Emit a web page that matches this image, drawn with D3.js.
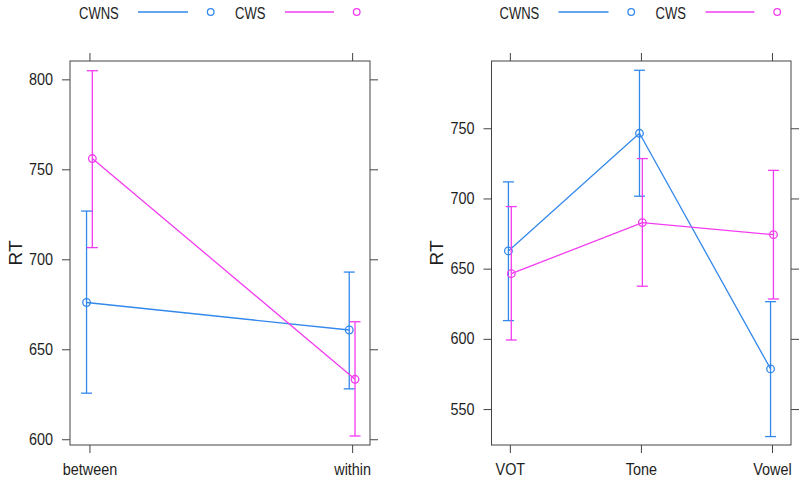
<!DOCTYPE html>
<html><head><meta charset="utf-8">
<script src="https://cdn.jsdelivr.net/npm/d3@7"></script>
<style>
html,body{margin:0;padding:0;background:#fff;}
svg{display:block;font-family:"Liberation Sans",Arial,sans-serif;}
</style></head>
<body><svg id="chart" width="800" height="479"></svg>
<script>
// ---- data ----
const seriesNames = ["CWNS", "CWS"];
const seriesColors = ["#3388ec", "#f23cf0"];

const categoriesA = ["between", "within"];
const cwnsA = [676, 660.7];
const cwnsA_lo = [625.6, 628];
const cwnsA_hi = [726.8, 692.9];
const cwsA = [756, 633.3];
const cwsA_lo = [706.5, 601.8];
const cwsA_hi = [804.8, 665.3];
const ticksA = [600, 650, 700, 750, 800];

const categoriesB = ["VOT", "Tone", "Vowel"];
const cwnsB = [662.6, 746.4, 578.6];
const cwnsB_lo = [613, 701.6, 530.4];
const cwnsB_hi = [711.8, 791.3, 626.5];
const cwsB = [646.4, 682.8, 674.2];
const cwsB_lo = [599.2, 637.5, 628.4];
const cwsB_hi = [694.2, 728.4, 720];
const ticksB = [550, 600, 650, 700, 750];

const svg = d3.select("#chart");
const TXT = "#1e1e1e", BOX = "#444";
const SX = 0.9;

function panel(cfg) {
  const {left, right, top, bottom, xDom, yDom, cats, series, yTicks, legendDx} = cfg;
  const x = d3.scaleLinear().domain(xDom).range([left, right]);
  const y = d3.scaleLinear().domain(yDom).range([bottom, top]);
  const g = svg.append("g");
  const idx = cats.map((c, i) => i + 1);
  const catFmt = i => cats[i - 1];

  // axes
  const ax = [
    g.append("g").attr("transform", `translate(${left},0)`).call(d3.axisLeft(y).tickValues(yTicks).tickSize(8).tickPadding(9)),
    g.append("g").attr("transform", `translate(${right},0)`).call(d3.axisRight(y).tickValues(yTicks).tickSize(8).tickFormat("")),
    g.append("g").attr("transform", `translate(0,${bottom})`).call(d3.axisBottom(x).tickValues(idx).tickFormat(catFmt).tickSize(8).tickPadding(11)),
    g.append("g").attr("transform", `translate(0,${top})`).call(d3.axisTop(x).tickValues(idx).tickSize(8).tickFormat(""))
  ];
  ax.forEach(a => {
    a.select(".domain").remove();
    a.selectAll("line").attr("stroke", BOX).attr("stroke-width", 1);
    a.selectAll("text").attr("fill", TXT).style("font-size", "16px")
      .style("font-family", '"Liberation Sans",Arial,sans-serif');
  });
  ax[0].selectAll("text").attr("x", -17 / SX).attr("transform", `scale(${SX},1)`);
  ax[2].selectAll("text").attr("transform", `scale(${SX},1)`);

  g.append("rect").attr("x", left).attr("y", top).attr("width", right - left).attr("height", bottom - top)
    .attr("fill", "none").attr("stroke", BOX).attr("stroke-width", 1);

  // y title
  g.append("text").attr("transform", `translate(${left - 55},${(top + bottom) / 2}) rotate(-90)`)
    .attr("text-anchor", "middle").attr("dominant-baseline", "central")
    .style("font-size", "19px").attr("fill", TXT).text("RT");

  // series
  const dodge = [-0.011, 0.011];
  series.forEach((s, si) => {
    const col = seriesColors[si];
    const pts = s.mean.map((m, i) => ({xv: i + 1 + dodge[si], m, lo: s.lo[i], hi: s.hi[i]}));
    const sg = g.append("g");
    sg.append("path").datum(pts)
      .attr("d", d3.line().x(d => x(d.xv)).y(d => y(d.m)))
      .attr("fill", "none").attr("stroke", col).attr("stroke-width", 1.3);
    const cap = 5.5;
    pts.forEach(d => {
      const cx = x(d.xv);
      sg.append("line").attr("x1", cx).attr("x2", cx).attr("y1", y(d.lo)).attr("y2", y(d.hi))
        .attr("stroke", col).attr("stroke-width", 1.3);
      [d.lo, d.hi].forEach(v => sg.append("line").attr("x1", cx - cap).attr("x2", cx + cap)
        .attr("y1", y(v)).attr("y2", y(v)).attr("stroke", col).attr("stroke-width", 1.3));
      sg.append("circle").attr("cx", cx).attr("cy", y(d.m)).attr("r", 3.8)
        .attr("fill", "none").attr("stroke", col).attr("stroke-width", 1.3);
    });
  });

  // legend
  const lg = g.append("g").attr("transform", `translate(${legendDx},0)`);
  const items = [
    {t: 79, l1: 138, l2: 188, c: 210.7},
    {t: 235, l1: 285, l2: 334, c: 356.7}
  ];
  items.forEach((it, i) => {
    lg.append("text").attr("transform", `translate(${it.t},19) scale(0.79,1)`)
      .style("font-size", "16.5px").attr("fill", TXT).text(seriesNames[i]);
    lg.append("line").attr("x1", it.l1).attr("x2", it.l2).attr("y1", 12).attr("y2", 12)
      .attr("stroke", seriesColors[i]).attr("stroke-width", 1.3);
    lg.append("circle").attr("cx", it.c).attr("cy", 12).attr("r", 3.3)
      .attr("fill", "none").attr("stroke", seriesColors[i]).attr("stroke-width", 1.3);
  });
}

panel({
  left: 70, right: 370, top: 61, bottom: 445,
  xDom: [0.926, 2.068], yDom: [596.8, 810.2],
  cats: categoriesA, yTicks: ticksA, legendDx: 0,
  series: [
    {mean: cwnsA, lo: cwnsA_lo, hi: cwnsA_hi},
    {mean: cwsA, lo: cwsA_lo, hi: cwsA_hi}
  ]
});
panel({
  left: 491.5, right: 791, top: 61, bottom: 445,
  xDom: [0.86, 3.145], yDom: [524.4, 797.9],
  cats: categoriesB, yTicks: ticksB, legendDx: 420.5,
  series: [
    {mean: cwnsB, lo: cwnsB_lo, hi: cwnsB_hi},
    {mean: cwsB, lo: cwsB_lo, hi: cwsB_hi}
  ]
});
</script></body></html>
